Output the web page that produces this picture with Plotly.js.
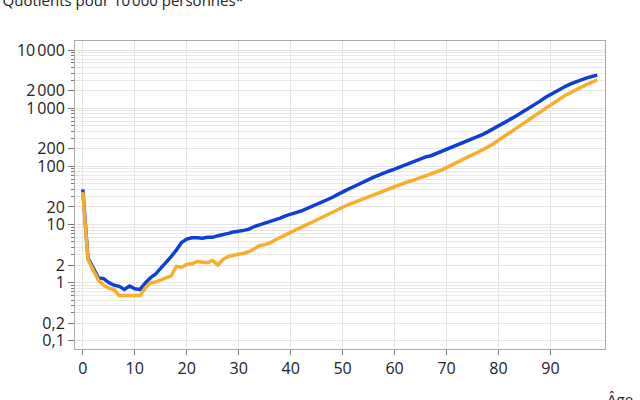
<!DOCTYPE html>
<html>
<head>
<meta charset="utf-8">
<script src="https://cdn.plot.ly/plotly-3.0.1.min.js"></script>
<style>html,body{margin:0;padding:0;background:#fff;}#chart{width:640px;height:400px;}</style>
</head>
<body>
<div id="chart"></div>
<script>
const ages = Array.from({length: 100}, (_, i) => i);
const hommes = [40, 2.6, 1.8, 1.2, 1.17, 1.0, 0.9, 0.86, 0.76, 0.87,
  0.78, 0.76, 0.98, 1.2, 1.4, 1.75, 2.3, 2.8, 3.6, 4.9,
  5.6, 5.9, 5.9, 5.8, 6.0, 6.0, 6.4, 6.6, 7.0, 7.4,
  7.6, 7.9, 8.3, 9.2, 9.8, 10.4, 11.2, 12.0, 12.8, 14.0,
  15.2, 16.0, 17.0, 18.5, 20.5, 22.5, 24.5, 26.5, 29, 32.5,
  36.5, 40, 44, 48, 53, 59, 65, 71, 77, 83,
  89, 97, 105, 114, 122, 132, 145, 152, 165, 180,
  195, 210, 228, 248, 270, 295, 325, 355, 395, 440,
  490, 550, 620, 700, 790, 890, 1010, 1150, 1320, 1520,
  1720, 1930, 2150, 2400, 2640, 2880, 3100, 3320, 3500, 3700];
const femmes = [36, 2.5, 1.65, 1.1, 0.9, 0.8, 0.76, 0.6, 0.6, 0.6,
  0.6, 0.6, 0.8, 0.98, 1.02, 1.1, 1.2, 1.3, 1.9, 1.83,
  2.05, 2.1, 2.3, 2.25, 2.2, 2.4, 2.0, 2.5, 2.8, 2.95,
  3.05, 3.2, 3.4, 3.9, 4.3, 4.5, 4.8, 5.4, 6.0, 6.6,
  7.3, 8.0, 8.8, 9.8, 10.8, 12.0, 13.3, 14.8, 16.5, 18.3,
  20.0, 21.8, 23.5, 25.5, 27.5, 29.5, 32, 35, 38, 41,
  44, 48, 52, 55, 59, 63, 68, 73, 79, 86,
  95, 105, 115, 127, 140, 155, 172, 192, 215, 245,
  280, 320, 365, 420, 485, 560, 645, 745, 860, 990,
  1140, 1300, 1480, 1680, 1880, 2100, 2330, 2560, 2800, 3050];
const yTickVals = [0.1, 0.2, 1, 2, 10, 20, 100, 200, 1000, 2000, 10000];
const yTickText = ['0,1', '0,2', '1', '2', '10', '20', '100', '200', '1\u202F000', '2\u202F000', '10\u202F000'];
const xTickVals = [0, 10, 20, 30, 40, 50, 60, 70, 80, 90];
const titleText = 'Quotients pour 10\u202F000 personnes*';
const xTitleText = 'Âge';

const minorVals = [];
for (let d = -1; d <= 3; d++) for (let k = 1; k <= 9; k++) minorVals.push(k * Math.pow(10, d));
minorVals.push(10000);

const font = {family: 'Open Sans, Noto Sans, sans-serif', size: 16, color: '#222'};

const data = [
  {x: ages, y: hommes, type: 'scatter', mode: 'lines', name: 'Hommes',
   line: {color: '#0e3fd6', width: 3.5}},
  {x: ages, y: femmes, type: 'scatter', mode: 'lines', name: 'Femmes',
   line: {color: '#f6ae2b', width: 3.5}}
];

const layout = {
  width: 640, height: 400,
  margin: {l: 75, r: 35, t: 41, b: 51},
  paper_bgcolor: '#fff', plot_bgcolor: '#fff',
  showlegend: false,
  font: font,
  title: {text: titleText, font: {family: font.family, size: 15, color: '#222'},
          xref: 'container', x: 0.004, xanchor: 'left', yref: 'container', y: 0.997, yanchor: 'middle'},
  xaxis: {
    range: [-1.5, 100.5], tickmode: 'array', tickvals: xTickVals,
    ticks: 'outside', ticklen: 5, tickcolor: '#777', tickwidth: 1,
    showgrid: true, gridcolor: '#e4e4e4', gridwidth: 1, zeroline: false,
    showline: true, linecolor: '#aaa', linewidth: 1, mirror: true,
    tickfont: font
  },
  yaxis: {
    type: 'log', range: [-1.143, 4.155], tickmode: 'array', tickvals: yTickVals, ticktext: yTickText,
    ticks: 'outside', ticklen: 6, tickcolor: '#777', tickwidth: 1,
    showgrid: true, gridcolor: '#e4e4e4', gridwidth: 1, zeroline: false,
    showline: true, linecolor: '#aaa', linewidth: 1, mirror: true,
    tickfont: font,
    minor: {tickmode: 'array', tickvals: minorVals, ticks: 'outside', ticklen: 3.5, tickcolor: '#777',
            showgrid: true, gridcolor: '#e8e8e8', gridwidth: 1}
  },
  annotations: [{text: xTitleText, xref: 'paper', yref: 'paper', x: 1, y: -0.124,
                 xanchor: 'left', yanchor: 'top', showarrow: false,
                 font: {family: font.family, size: 15, color: '#222'}}]
};

Plotly.newPlot('chart', data, layout, {displayModeBar: false, staticPlot: true});
</script>
</body>
</html>
